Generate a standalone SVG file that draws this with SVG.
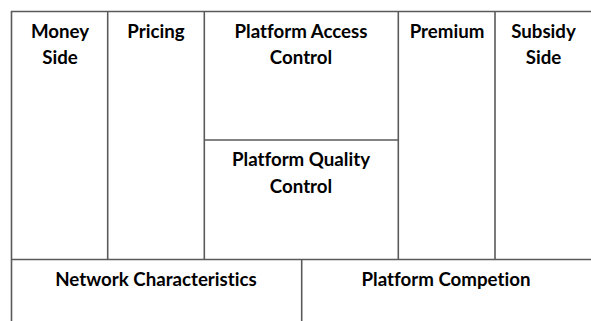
<svg xmlns="http://www.w3.org/2000/svg" width="591" height="321" viewBox="0 0 591 321">
  <style>
    .grid line { stroke: #5a5a5a; stroke-width: 1.6; }
    .lbl { font-family: Lato, "Liberation Sans", sans-serif; font-weight: bold; font-size: 18.7px; fill: #000; text-anchor: middle; font-variant-ligatures: none; }
  </style>
  <rect width="591" height="321" fill="#ffffff"/>
  <!-- table rules -->
  <g id="connectors" class="grid">
    <line x1="11" y1="11.5" x2="591" y2="11.5"/>
    <line x1="11.5" y1="11" x2="11.5" y2="321"/>
    <line x1="107.7" y1="11" x2="107.7" y2="259.5"/>
    <line x1="204.3" y1="11" x2="204.3" y2="259.5"/>
    <line x1="398.3" y1="11" x2="398.3" y2="259.5"/>
    <line x1="495" y1="11" x2="495" y2="259.5"/>
    <line x1="204.3" y1="140" x2="398.3" y2="140"/>
    <line x1="11" y1="259.5" x2="591" y2="259.5"/>
    <line x1="301.7" y1="259.5" x2="301.7" y2="321"/>
  </g>
  <g id="money-side">
    <text class="lbl" x="60" y="37.5">Money</text>
    <text class="lbl" x="60" y="64">Side</text>
  </g>
  <g id="pricing">
    <text class="lbl" x="156" y="37.5">Pricing</text>
  </g>
  <g id="platform-access-control">
    <text class="lbl" x="301" y="37.5">Platform Access</text>
    <text class="lbl" x="301" y="64">Control</text>
  </g>
  <g id="premium">
    <text class="lbl" x="447" y="37.5">Premium</text>
  </g>
  <g id="subsidy-side">
    <text class="lbl" x="543.5" y="37.5">Subsidy</text>
    <text class="lbl" x="543.5" y="64">Side</text>
  </g>
  <g id="platform-quality-control">
    <text class="lbl" x="301" y="166">Platform Quality</text>
    <text class="lbl" x="301" y="193">Control</text>
  </g>
  <g id="network-characteristics">
    <text class="lbl" x="156" y="286">Network Characteristics</text>
  </g>
  <g id="platform-competion">
    <text class="lbl" x="446" y="286">Platform Competion</text>
  </g>
</svg>
